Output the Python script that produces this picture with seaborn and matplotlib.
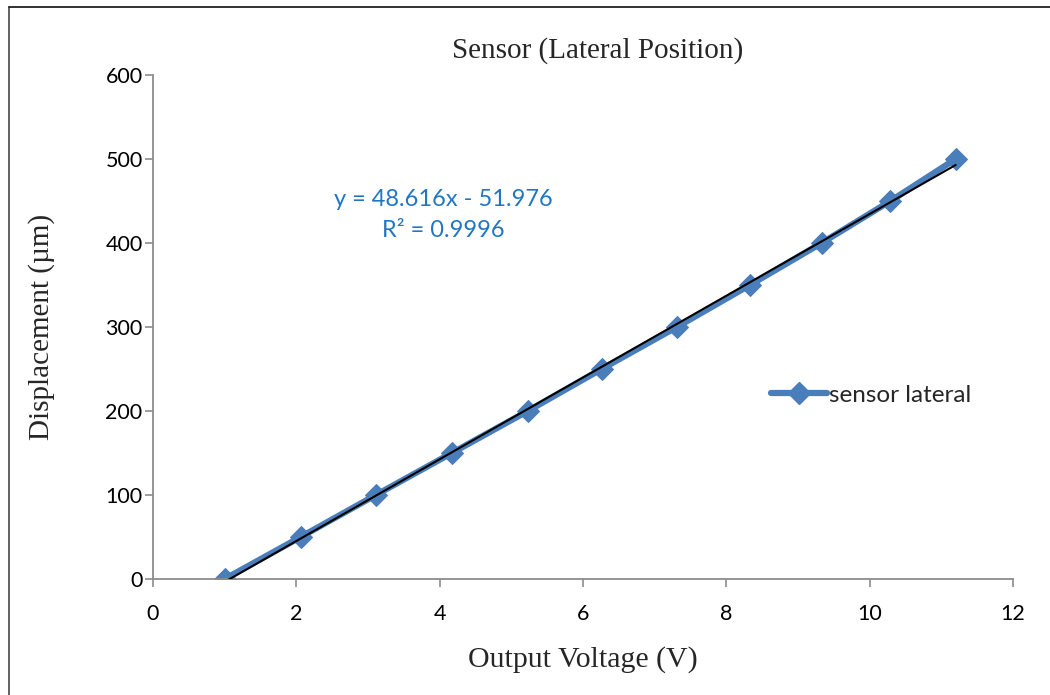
import matplotlib
matplotlib.use("Agg")
import matplotlib.pyplot as plt
import seaborn as sns
import pandas as pd
from matplotlib.lines import Line2D

# Data
voltage = [1.00, 2.06, 3.11, 4.17, 5.23, 6.26, 7.31, 8.33, 9.33, 10.29, 11.20]
displacement = [0, 50, 100, 150, 200, 250, 300, 350, 400, 450, 500]
series_name = "sensor lateral"
title = "Sensor (Lateral Position)"
xlabel = "Output Voltage (V)"
ylabel = "Displacement (\u00b5m)"
eq_text = "y = 48.616x - 51.976\nR\u00b2 = 0.9996"
xticks = [0, 2, 4, 6, 8, 10, 12]
yticks = [0, 100, 200, 300, 400, 500, 600]

df = pd.DataFrame({"V": voltage, "D": displacement, "s": series_name})

sns.set_style("white")
plt.rcParams["font.family"] = ["Lato", "DejaVu Sans"]

blue = "#4A7EBB"
gray = "#8C8C8C"

fig = plt.figure(figsize=(10.5, 6.95), dpi=100)
ax = fig.add_axes([153 / 1050, 1 - 579 / 695, 860 / 1050, 504 / 695])

sns.lineplot(data=df, x="V", y="D", ax=ax, color=blue, lw=4.5, marker="D",
             markersize=11.5, markeredgecolor=blue, markerfacecolor=blue,
             legend=False, solid_capstyle="round", zorder=2)
sns.regplot(data=df, x="V", y="D", ax=ax, scatter=False, ci=None, truncate=True,
            line_kws=dict(color="black", lw=1.5, zorder=3))

ax.set_xlim(0, 12)
ax.set_ylim(0, 600)
ax.set_xticks(xticks)
ax.set_yticks(yticks)
ax.tick_params(axis="both", which="both", direction="out", length=6, width=1.2,
               color=gray, labelsize=15.5, labelcolor="black",
               bottom=True, left=True)
ax.tick_params(axis="x", pad=12)
ax.tick_params(axis="y", pad=1.5)
for side in ["top", "right"]:
    ax.spines[side].set_visible(False)
for side in ["left", "bottom"]:
    ax.spines[side].set_color(gray)
    ax.spines[side].set_linewidth(1.3)

ax.set_xlabel(xlabel, family=["Liberation Serif"], fontsize=21.5, labelpad=16)
ax.set_ylabel(ylabel, family=["Liberation Serif", "DejaVu Serif"], fontsize=21, labelpad=36)
fig.text(598 / 1050, 1 - 51 / 695, title, family=["Liberation Serif"], fontsize=21,
         ha="center", va="center")

fig.text(443 / 1050, 1 - 215 / 695, eq_text, color="#1F77C4", fontsize=17,
         ha="center", va="center", linespacing=1.6)

handle = Line2D([], [], color=blue, lw=4.5, marker="D", markersize=11.5,
                markerfacecolor=blue, markeredgecolor=blue, solid_capstyle="round")
leg = ax.legend([handle], [series_name], loc="center left",
                bbox_to_anchor=(761 / 1050, 1 - 395 / 695), bbox_transform=fig.transFigure,
                frameon=False, fontsize=17.5, handlelength=2.3, handletextpad=0.1,
                borderaxespad=0)

# figure border (left and top visible)
fig.add_artist(Line2D([9 / 1050, 9 / 1050], [0, 1 - 7 / 695], color="#555555", lw=1.3,
                      transform=fig.transFigure))
fig.add_artist(Line2D([9 / 1050, 1], [1 - 7 / 695, 1 - 7 / 695], color="#222222", lw=1.3,
                      transform=fig.transFigure))

fig.savefig("out.png", dpi=100)
